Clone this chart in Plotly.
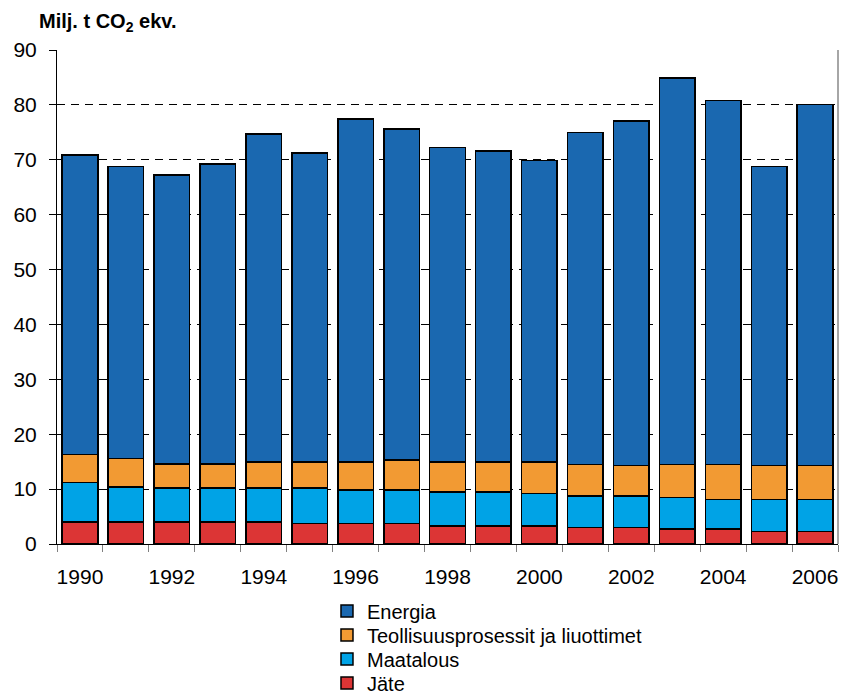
import plotly.graph_objects as go

# Greenhouse gas emissions by sector, million tonnes CO2 equivalent
years = list(range(1990, 2007))
jate = [4.0, 4.0, 4.0, 4.0, 4.0, 3.7, 3.7, 3.7, 3.3, 3.3, 3.3, 3.0, 3.0, 2.7, 2.7, 2.25, 2.25]
maatalous = [7.2, 6.4, 6.2, 6.2, 6.2, 6.5, 6.1, 6.1, 6.2, 6.2, 5.9, 5.75, 5.75, 5.75, 5.4, 5.85, 5.85]
teollisuus = [5.1, 5.2, 4.4, 4.4, 4.7, 4.7, 5.1, 5.5, 5.4, 5.4, 5.7, 5.75, 5.55, 6.05, 6.4, 6.2, 6.2]
energia = [54.6, 53.2, 52.6, 54.6, 59.8, 56.3, 62.5, 60.3, 57.3, 56.7, 55.0, 60.5, 62.8, 70.4, 66.3, 54.5, 65.8]

y_ticks = [0, 10, 20, 30, 40, 50, 60, 70, 80, 90]
x_labels = list(range(1990, 2007, 2))

# (name, values, colour, legend id, legend row centre in paper units)
series = [
    ("Jäte", jate, "#dc3535", "legend4", -0.2814),
    ("Maatalous", maatalous, "#00a3e6", "legend3", -0.2328),
    ("Teollisuusprosessit ja liuottimet", teollisuus, "#f29a33", "legend2", -0.1842),
    ("Energia", energia, "#1a68b0", "legend", -0.1356),
]

font_family = "Liberation Sans, Arial, sans-serif"

fig = go.Figure()
for name, vals, color, leg, _ in series:
    fig.add_trace(go.Bar(
        x=years, y=vals, name=name, legend=leg,
        marker=dict(color=color, line=dict(color="black", width=1.5)),
    ))

legend_style = dict(
    x=0.3457, xanchor="left", yanchor="middle",
    font=dict(size=20, family=font_family),
    bgcolor="rgba(0,0,0,0)", itemwidth=30,
)
legends = {leg: dict(legend_style, y=ypos) for _, _, _, leg, ypos in series}

fig.update_layout(
    width=843, height=695,
    barmode="stack", bargap=0.225,
    plot_bgcolor="white", paper_bgcolor="white",
    margin=dict(l=57, r=5, t=50, b=151, autoexpand=False),
    font=dict(family=font_family, size=21, color="black"),
    showlegend=True,
    **legends,
    xaxis=dict(
        range=[1989.5, 2006.5],
        tickvals=x_labels, ticktext=[str(v) for v in x_labels],
        ticks="", showgrid=False, ticklabelstandoff=14,
        showline=True, linecolor="black", linewidth=1,
        minor=dict(tick0=1989.5, dtick=1, ticks="outside", ticklen=7,
                   tickcolor="#808080", showgrid=False),
        tickfont=dict(size=21),
    ),
    yaxis=dict(
        range=[0, 90], tickvals=y_ticks,
        ticks="outside", ticklen=7, tickcolor="black", ticklabelstandoff=8,
        showline=True, linecolor="black", linewidth=1,
        showgrid=True, gridcolor="black", griddash="8px,6px", gridwidth=1,
        zeroline=False, tickfont=dict(size=21),
    ),
    shapes=[dict(type="line", xref="paper", yref="paper",
                 x0=1, x1=1, y0=0, y1=1,
                 line=dict(color="#888888", width=1.5))],
    annotations=[dict(
        text="<b>Milj. t CO<sub>2</sub> ekv.</b>",
        xref="paper", yref="paper", x=-0.026, y=1.0, yshift=28,
        xanchor="left", yanchor="middle", showarrow=False,
        font=dict(size=20, family=font_family),
    )],
)

fig.write_html("out.html")
